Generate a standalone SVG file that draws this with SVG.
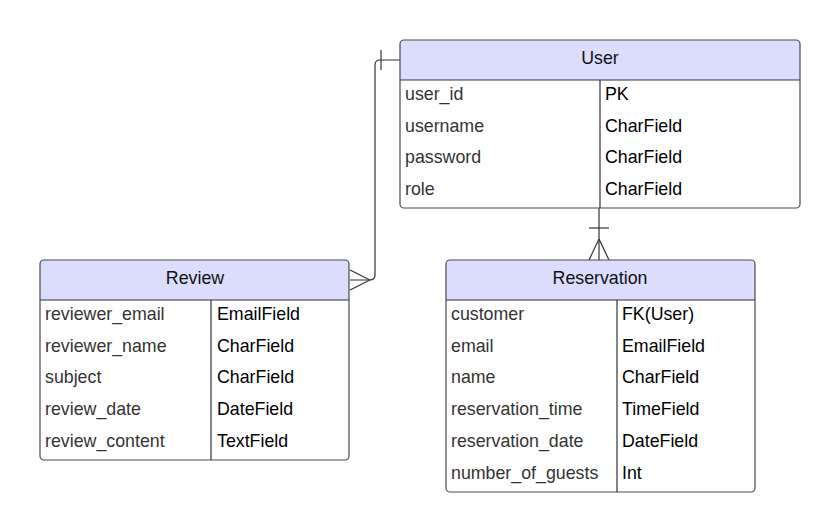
<svg xmlns="http://www.w3.org/2000/svg" width="840" height="532" viewBox="0 0 840 532">
<style>
.bg{fill:#ffffff}
.box{fill:none;stroke:#4a4a4a;stroke-width:1.2}
.hdr{fill:#dcdcfc}
.ln{stroke:#333333;stroke-width:1.2;fill:none}
.title{font-family:"Liberation Sans",Arial,sans-serif;font-size:17.8px;fill:#111111;text-anchor:middle}
.nm{font-family:"Liberation Sans",Arial,sans-serif;font-size:17.8px;fill:#333333}
.tp{font-family:"Liberation Sans",Arial,sans-serif;font-size:17.8px;fill:#000000}
.con{stroke:#333333;stroke-width:1.2;fill:none}
</style>
<rect width="840" height="532" fill="#ffffff"/>
<g id="connectors">
  <path class="con" d="M400,60 H380 Q375,60 375,65 V275 Q375,280 370,280 H350"/>
  <line class="con" x1="381" y1="50" x2="381" y2="70"/>
  <path class="con" d="M370,280 L350,270 M370,280 L350,290"/>
  <line class="con" x1="599" y1="208" x2="599" y2="260"/>
  <line class="con" x1="589" y1="228" x2="609" y2="228"/>
  <path class="con" d="M599,239 L589,260 M599,239 L609,260"/>
</g>
<g id="user">
  <rect class="bg" x="400" y="40" width="400" height="168" rx="4"/>
  <path class="hdr" d="M400,80 V44 Q400,40 404,40 H796 Q800,40 800,44 V80 Z"/>
  <rect class="box" x="400" y="40" width="400" height="168" rx="4"/>
  <line class="ln" x1="400" y1="80" x2="800" y2="80"/>
  <line class="ln" x1="600" y1="80" x2="600" y2="208"/>
  <text class="title" x="600" y="64">User</text>
  <text class="nm" x="405" y="100">user_id</text>
  <text class="nm" x="405" y="132">username</text>
  <text class="nm" x="405" y="163">password</text>
  <text class="nm" x="405" y="195">role</text>
  <text class="tp" x="605" y="100">PK</text>
  <text class="tp" x="605" y="132">CharField</text>
  <text class="tp" x="605" y="163">CharField</text>
  <text class="tp" x="605" y="195">CharField</text>
</g>
<g id="review">
  <rect class="bg" x="40" y="260" width="309" height="200" rx="4"/>
  <path class="hdr" d="M40,300 V264 Q40,260 44,260 H345 Q349,260 349,264 V300 Z"/>
  <rect class="box" x="40" y="260" width="309" height="200" rx="4"/>
  <line class="ln" x1="40" y1="300" x2="349" y2="300"/>
  <line class="ln" x1="211" y1="300" x2="211" y2="460"/>
  <text class="title" x="195" y="284">Review</text>
  <text class="nm" x="45" y="320">reviewer_email</text>
  <text class="nm" x="45" y="352">reviewer_name</text>
  <text class="nm" x="45" y="383">subject</text>
  <text class="nm" x="45" y="415">review_date</text>
  <text class="nm" x="45" y="447">review_content</text>
  <text class="tp" x="217" y="320">EmailField</text>
  <text class="tp" x="217" y="352">CharField</text>
  <text class="tp" x="217" y="383">CharField</text>
  <text class="tp" x="217" y="415">DateField</text>
  <text class="tp" x="217" y="447">TextField</text>
</g>
<g id="reservation">
  <rect class="bg" x="446" y="260" width="309" height="232" rx="4"/>
  <path class="hdr" d="M446,300 V264 Q446,260 450,260 H751 Q755,260 755,264 V300 Z"/>
  <rect class="box" x="446" y="260" width="309" height="232" rx="4"/>
  <line class="ln" x1="446" y1="300" x2="755" y2="300"/>
  <line class="ln" x1="617" y1="300" x2="617" y2="492"/>
  <text class="title" x="600" y="284">Reservation</text>
  <text class="nm" x="451" y="320">customer</text>
  <text class="nm" x="451" y="352">email</text>
  <text class="nm" x="451" y="383">name</text>
  <text class="nm" x="451" y="415">reservation_time</text>
  <text class="nm" x="451" y="447">reservation_date</text>
  <text class="nm" x="451" y="479">number_of_guests</text>
  <text class="tp" x="622" y="320">FK(User)</text>
  <text class="tp" x="622" y="352">EmailField</text>
  <text class="tp" x="622" y="383">CharField</text>
  <text class="tp" x="622" y="415">TimeField</text>
  <text class="tp" x="622" y="447">DateField</text>
  <text class="tp" x="622" y="479">Int</text>
</g>
</svg>
